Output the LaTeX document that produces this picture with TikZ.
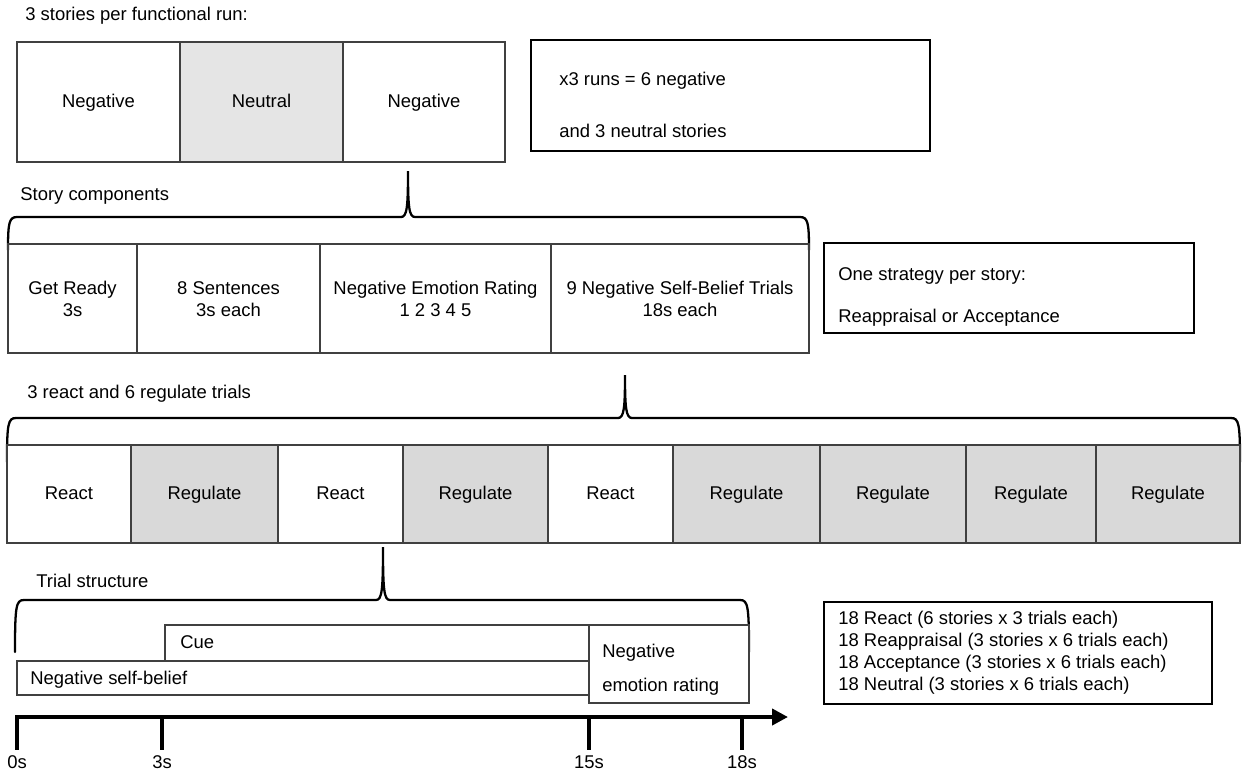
\documentclass[tikz,border=0pt]{standalone}
\usepackage{fontspec}
\setmainfont{Liberation Sans}
\usepackage{tikz}
\usepackage{xcolor}
\usetikzlibrary{arrows.meta}

\definecolor{neutralgray}{gray}{0.9}
\definecolor{reggray}{gray}{0.85}

\tikzset{
  box/.style={draw=black!75, line width=0.6pt},
  bracket/.style={draw=black, line width=1.3pt, line cap=round},
  lbl/.style={anchor=west, inner sep=0pt, text height=1.6ex, text depth=0.4ex},
  ctr/.style={align=center, inner sep=0pt},
  word/.style={inner sep=0pt, text height=1.6ex, text depth=0.4ex},
  tickmark/.style={line width=2.4pt},
}

% left x, right x, tip x, end y, bar y, tip y
\newcommand{\storybrace}[6]{%
  \draw[bracket] (#1,#4) .. controls (#1,#5+6) and (#1+1,#5) .. (#1+9,#5)
    -- (#3-7,#5) .. controls (#3-1,#5) and (#3,#5-10) .. (#3,#6)
    .. controls (#3,#5-10) and (#3+1,#5) .. (#3+7,#5)
    -- (#2-9,#5) .. controls (#2-1,#5) and (#2,#5+6) .. (#2,#4);
}

\begin{document}
\begin{tikzpicture}[x=0.02cm, y=-0.02cm, font=\fontsize{10.5}{12.6}\selectfont]
  \useasboundingbox (0,0) rectangle (1242,772);

  % Runs
  \node[lbl] (runtitle) at (25,15) {3 stories per functional run:};
  \filldraw[box, fill=white] (17,42) rectangle (180,162);
  \filldraw[box, fill=neutralgray] (180,42) rectangle (343,162);
  \filldraw[box, fill=white] (343,42) rectangle (505,162);
  \node[word] (run1) at (98.5,102) {Negative};
  \node[word] (run2) at (261.5,102) {Neutral};
  \node[word] (run3) at (424,102) {Negative};

  \draw[box, line width=0.9pt, draw=black] (531,40) rectangle (930,151);
  \node[lbl] (runsa) at (559,80) {x3 runs = 6 negative};
  \node[lbl] (runsb) at (559,132) {and 3 neutral stories};

  % Story components
  \storybrace{8}{809}{408}{250}{217}{171}
  \node[lbl] (comptitle) at (20,195) {Story components};
  \foreach \a/\b/\t in {8/137/{Get Ready\\3s}, 137/320/{8 Sentences\\3s each},
      320/551/{Negative Emotion Rating\\1 2 3 4 5}, 551/809/{9 Negative Self-Belief Trials\\18s each}} {
    \draw[box] (\a,244) rectangle (\b,353);
    \node[ctr] at ({(\a+\b)/2},299) {\t};
  }

  \draw[box, line width=0.9pt, draw=black] (824,243) rectangle (1194,333);
  \node[lbl] (strata) at (838,275) {One strategy per story:};
  \node[lbl] (stratb) at (838,317) {Reappraisal or Acceptance};

  % Trials
  \storybrace{7}{1240}{625}{462}{418}{375}
  \node[lbl] (trialtitle) at (27,393) {3 react and 6 regulate trials};
  \foreach \a/\b/\t/\c [count=\i] in {7/131/React/white, 131/278/Regulate/reggray,
      278/403/React/white, 403/548/Regulate/reggray, 548/673/React/white,
      673/820/Regulate/reggray, 820/966/Regulate/reggray,
      966/1096/Regulate/reggray, 1096/1240/Regulate/reggray} {
    \filldraw[box, fill=\c] (\a,445) rectangle (\b,543);
    \node[word] (trial\i) at ({(\a+\b)/2},494) {\t};
  }

  % Trial structure
  \storybrace{15}{749}{383}{652}{600}{547}
  \node[lbl] (structtitle) at (36,582) {Trial structure};
  \draw[box] (165,625) rectangle (749,661);
  \node[lbl] (cue) at (180,643) {Cue};
  \draw[box] (17,661) rectangle (589,695);
  \node[lbl] (belief) at (30,679) {Negative self-belief};
  \filldraw[box, fill=white] (589,625) rectangle (749,703);
  \node[lbl] (ratea) at (602,652) {Negative};
  \node[lbl] (rateb) at (602,686) {emotion rating};

  % Timeline
  \coordinate (tstart) at (15,717);
  \coordinate (tend) at (788,717);
  \draw[line width=2.4pt, -{Triangle[length=9pt,width=9pt]}] (tstart) -- (tend);
  \foreach \x/\t in {17/0s, 162/3s, 589/15s, 742/18s} {
    \draw[tickmark] (\x,717) -- (\x,750);
    \node[word] (time\t) at (\x,763) {\t};
  }

  \draw[box, line width=0.9pt, draw=black] (824,602) rectangle (1212,704);
  \node[lbl, align=left, text height=, text depth=] (totals) at (838,653) {18 React (6 stories x 3 trials each)\\
    18 Reappraisal (3 stories x 6 trials each)\\
    18 Acceptance (3 stories x 6 trials each)\\
    18 Neutral (3 stories x 6 trials each)};
\end{tikzpicture}
\end{document}
